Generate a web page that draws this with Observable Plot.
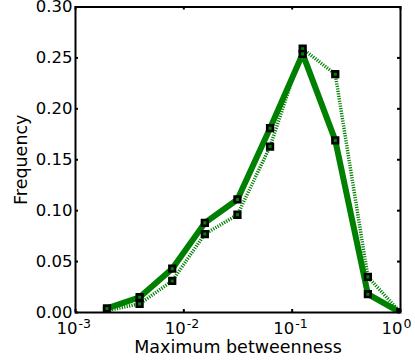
<!DOCTYPE html>
<html>
<head>
<meta charset="utf-8">
<script src="https://cdn.jsdelivr.net/npm/d3@7"></script>
<script src="https://cdn.jsdelivr.net/npm/@observablehq/plot@0.6"></script>
<style>
  html, body { margin: 0; padding: 0; background: #fff; }
  svg { display: block; }
</style>
</head>
<body>
<div id="chart"></div>
<script>
// Data
const xValues = [0.001953125, 0.00390625, 0.0078125, 0.015625, 0.03125, 0.0625, 0.125, 0.25, 0.5, 1];
const solidFreq = [0.004, 0.015, 0.043, 0.088, 0.111, 0.181, 0.254, 0.169, 0.018, 0.0];
const dottedFreq = [0.002, 0.0085, 0.031, 0.077, 0.096, 0.163, 0.259, 0.234, 0.035, 0.0];

const xTicks = [0.001, 0.01, 0.1, 1];
const xTickBase = ["10", "10", "10", "10"];
const xTickExp = ["-3", "-2", "-1", "0"];
const yTicks = [0, 0.05, 0.10, 0.15, 0.20, 0.25, 0.30];

const xLabel = "Maximum betweenness";
const yLabel = "Frequency";

const solid = xValues.map((x, i) => ({x, y: solidFreq[i]}));
const dotted = xValues.map((x, i) => ({x, y: dottedFreq[i]}));
const xTickRows = xTicks.map((v, i) => ({v, base: xTickBase[i], exp: xTickExp[i]}));

const W = 415, H = 363;
const mL = 75, mR = 15, mT = 6.5, mB = 51;
const plotW = W - mL - mR, plotH = H - mT - mB;
const green = "#008000";

const chart = Plot.plot({
  width: W,
  height: H,
  marginLeft: mL,
  marginRight: mR,
  marginTop: mT,
  marginBottom: mB,
  style: {fontFamily: "DejaVu Sans", background: "#fff", color: "black", overflow: "visible"},
  x: {type: "log", domain: [0.001, 1], axis: null},
  y: {domain: [0, 0.30]},
  marks: [
    Plot.lineY(dotted, {x: "x", y: "y", stroke: green, strokeWidth: 3.5, strokeDasharray: "1.2,1.3", strokeLinecap: "butt", strokeLinejoin: "miter", clip: true}),
    Plot.lineY(solid, {x: "x", y: "y", stroke: green, strokeWidth: 6, strokeLinecap: "butt", strokeLinejoin: "miter", clip: true}),
    Plot.dot(dotted, {x: "x", y: "y", symbol: "square", r: 3.2, fill: green, stroke: "black", strokeWidth: 2.6, clip: true}),
    Plot.dot(solid, {x: "x", y: "y", symbol: "square", r: 3.2, fill: green, stroke: "black", strokeWidth: 2.6, clip: true}),
    Plot.frame({stroke: "black", strokeWidth: 2}),
    // inward tick marks on all four sides
    Plot.tickX(xTicks, {x: d => d, insetTop: plotH - 3, stroke: "black", strokeWidth: 2}),
    Plot.tickX(xTicks, {x: d => d, insetBottom: plotH - 3, stroke: "black", strokeWidth: 2}),
    Plot.tickY(yTicks, {y: d => d, insetRight: plotW - 3, stroke: "black", strokeWidth: 2}),
    Plot.tickY(yTicks, {y: d => d, insetLeft: plotW - 3, stroke: "black", strokeWidth: 2}),
    Plot.axisY({ticks: yTicks, tickSize: 0, tickPadding: 3, tickFormat: d3.format(".2f"), fontSize: 16.5, label: null}),
    // x tick labels as 10^n
    Plot.text(xTickRows, {x: "v", text: "base", frameAnchor: "bottom", textAnchor: "end", lineAnchor: "middle", dx: 2, dy: 16, fontSize: 16.5, fill: "black"}),
    Plot.text(xTickRows, {x: "v", text: "exp", frameAnchor: "bottom", textAnchor: "start", lineAnchor: "middle", dx: 3, dy: 11, fontSize: 12.5, fill: "black"}),
    // axis labels
    Plot.text([xLabel], {text: d => d, frameAnchor: "bottom", textAnchor: "middle", lineAnchor: "middle", dy: 35, fontSize: 17.5, fill: "black"}),
    Plot.text([yLabel], {text: d => d, frameAnchor: "left", textAnchor: "middle", lineAnchor: "middle", rotate: -90, dx: -54.5, fontSize: 17.5, fill: "black"})
  ]
});
document.getElementById("chart").appendChild(chart);
</script>
</body>
</html>
